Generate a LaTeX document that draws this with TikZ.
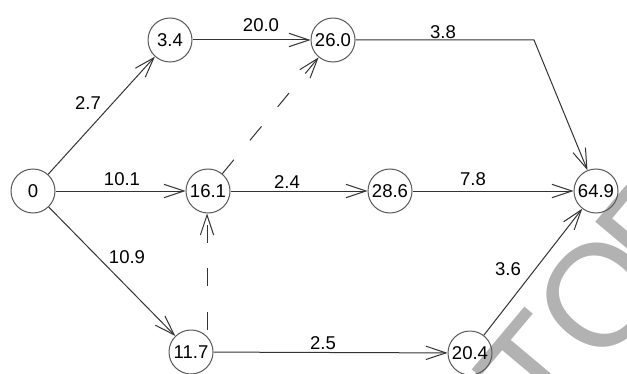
\documentclass[tikz,border=0pt]{standalone}
\usepackage{fontspec}
\setmainfont{Liberation Sans}
\usetikzlibrary{arrows.meta}
\begin{document}
\begin{tikzpicture}[x=0.75pt,y=-0.75pt,
  vtx/.style={circle,draw=black!65,line width=0.75pt,minimum size=33pt,inner sep=0pt,font=\fontsize{13.9}{16}\selectfont},
  lbl/.style={inner sep=0pt,font=\fontsize{13.9}{16}\selectfont},
  arr/.style={draw=black!80,line width=0.75pt,-{Straight Barb[length=15pt,width=10pt]}},
  dsh/.style={arr,dash pattern=on 13.5pt off 19pt},
  wmark/.style={rotate=50,anchor=base west,inner sep=0pt,text=black!30,font=\fontsize{108.75}{109}\selectfont}]
\useasboundingbox (0,0) rectangle (627,374);
\begin{scope}
\clip (0,0) rectangle (627,374);
\node[wmark] (wm1) at (546,437) {TO};
\node[wmark] (wm2) at (664,296) {P};
\end{scope}
% vertices
\node[vtx] (n0)   at (33,191)  {0};
\node[vtx] (n34)  at (170,40)  {3.4};
\node[vtx] (n26)  at (333,40)  {26.0};
\node[vtx] (n161) at (208,191) {16.1};
\node[vtx] (n286) at (390,191) {28.6};
\node[vtx] (n649) at (596,191) {64.9};
\node[vtx] (n117) at (191,352) {11.7};
\node[vtx] (n204) at (470,353) {20.4};
\coordinate (bend) at (534,40);
% edges
\draw[arr] (n0) -- (n34);
\draw[arr] (n0) -- (n161);
\draw[arr] (n0) -- (n117);
\draw[arr] (n34) -- (n26);
\draw[arr] (n26) -- (bend) -- (n649);
\draw[dsh] (n161) -- (n26);
\draw[arr] (n161) -- (n286);
\draw[arr] (n286) -- (n649);
\draw[dsh] (n117.north -| 207,0) -- (n161.south -| 207,0);
\draw[arr] (n117) -- (n204);
\draw[arr] (n204) -- (n649);
% labels
\node[lbl] (l27)  at (88,103)  {2.7};
\node[lbl] (l200) at (261,25)  {20.0};
\node[lbl] (l38)  at (443,32)  {3.8};
\node[lbl] (l101) at (122,179) {10.1};
\node[lbl] (l109) at (127,257) {10.9};
\node[lbl] (l24)  at (287,182) {2.4};
\node[lbl] (l78)  at (473,179) {7.8};
\node[lbl] (l25)  at (323,343) {2.5};
\node[lbl] (l36)  at (508,269) {3.6};
\end{tikzpicture}
\end{document}
